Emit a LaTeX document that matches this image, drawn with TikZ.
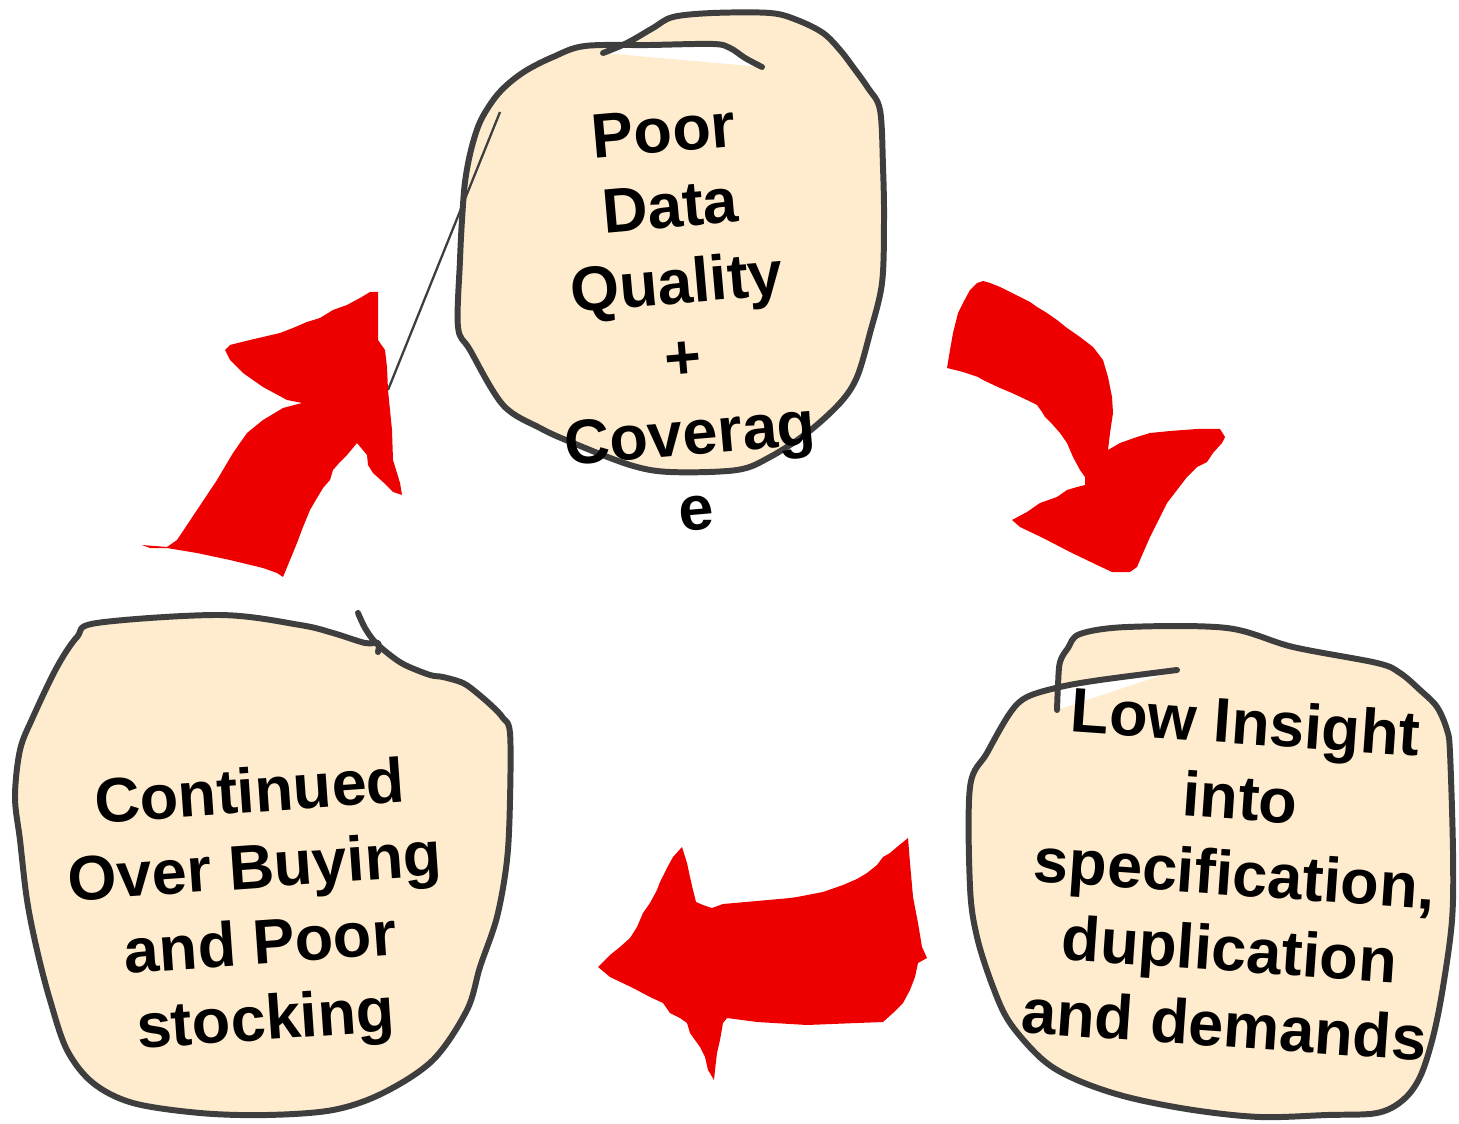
\documentclass[tikz,border=0pt]{standalone}
\usepackage{fontspec}
\setmainfont{Liberation Sans}
\definecolor{blobcream}{RGB}{255,236,206}
\definecolor{blobgray}{RGB}{62,62,62}
\definecolor{cyclered}{RGB}{238,0,0}
\tikzset{
  blobfill/.style={fill=blobcream, even odd rule},
  blobline/.style={draw=blobgray, line width=3.4pt, line join=round, line cap=round},
  cyclearrow/.style={fill=cyclered},
  blobtext/.style={font=\bfseries\fontsize{35.8}{43.2}\selectfont, align=center, inner sep=0pt},
}
% one hand drawn blob: fill (closed by a chord) then the open stroke
\newcommand\handblob[1]{%
  \fill[blobfill] plot[smooth, tension=.55] coordinates {#1} -- cycle;
  \draw[blobline] plot[smooth, tension=.55] coordinates {#1};}
\begin{document}
\begin{tikzpicture}[x=0.02cm, y=-0.02cm]
    \useasboundingbox (0,0) rectangle (1459,1124);

    % blobs
    \handblob{(762,67) (745,58) (730,48) (713,44) (650,45) (585,46) (553,57) (527,70) (508,84) (494,99) (480,122) (471,150) (465,182) (462,220) (460,260) (458,327) (470,350) (503,405) (540,428) (573,443) (630,465) (670,472) (737,470) (770,457) (807,433) (840,403) (857,377) (870,333) (882,283) (884,220) (883,167) (880,110) (868,88) (853,67) (840,50) (823,33) (797,20) (770,13) (713,13) (673,17) (653,28) (627,43) (603,53)}
    \handblob{(1057,710) (1058,685) (1060,662) (1068,648) (1080,634) (1127,627) (1227,628) (1293,647) (1377,663) (1400,673) (1420,690) (1437,707) (1447,730) (1450,753) (1453,853) (1452,920) (1443,987) (1433,1037) (1420,1077) (1403,1100) (1377,1113) (1327,1115) (1260,1117) (1193,1110) (1127,1097) (1077,1080) (1043,1060) (1010,1023) (993,987) (977,937) (970,887) (970,787) (987,753) (1010,713) (1027,697) (1060,687) (1100,680) (1177,670)}
    \handblob{(358,613) (365,628) (375,642) (390,655) (405,665) (430,675) (443,677) (463,683) (477,693) (493,707) (503,718) (510,733) (510,800) (507,860) (497,917) (480,967) (467,1010) (433,1060) (383,1093) (333,1110) (267,1115) (200,1113) (133,1103) (93,1083) (67,1050) (50,1000) (37,950) (27,900) (20,840) (15,797) (20,750) (33,717) (57,667) (77,637) (97,623) (220,615) (300,625) (333,633) (365,643) (378,643) (378,652)}

    % thin stroke
    \coordinate (strokeTop) at (500,112);
    \coordinate (strokeEnd) at (388,390);
    \draw[blobgray, line width=1.3pt] (strokeTop) -- (strokeEnd);

    % arrows
    \fill[cyclearrow] (142,545) -- (167,547) -- (177,540) -- (197,510) -- (217,480) -- (233,453) -- (247,433) -- (263,420) -- (283,408) -- (302,403) -- (287,400) -- (263,387) -- (243,373) -- (230,360) -- (225,350) -- (230,345) -- (250,340) -- (280,333) -- (293,328) -- (307,322) -- (320,318) -- (333,310) -- (347,305) -- (360,298) -- (370,292) -- (378,292) -- (378,340) -- (385,350) -- (387,367) -- (388,390) -- (392,430) -- (393,460) -- (397,473) -- (400,483) -- (402,495) -- (393,492) -- (383,482) -- (373,473) -- (368,465) -- (367,455) -- (357,443) -- (347,455) -- (340,462) -- (333,470) -- (330,480) -- (323,488) -- (317,498) -- (310,510) -- (303,527) -- (297,543) -- (290,560) -- (283,577) -- (277,573) -- (263,568) -- (230,560) -- (197,553) -- (167,548) -- (150,548) -- cycle;
    \fill[cyclearrow] (947,368) -- (950,350) -- (953,333) -- (958,313) -- (963,303) -- (970,290) -- (977,283) -- (983,281) -- (990,283) -- (1000,287) -- (1010,292) -- (1020,297) -- (1030,302) -- (1037,307) -- (1047,313) -- (1057,320) -- (1067,328) -- (1080,337) -- (1093,347) -- (1103,360) -- (1108,377) -- (1112,397) -- (1113,413) -- (1110,433) -- (1108,450) -- (1120,443) -- (1137,437) -- (1150,433) -- (1170,431) -- (1197,429) -- (1220,429) -- (1225,437) -- (1222,443) -- (1213,453) -- (1207,462) -- (1197,467) -- (1187,477) -- (1177,490) -- (1167,503) -- (1157,523) -- (1150,537) -- (1143,553) -- (1137,567) -- (1130,572) -- (1112,572) -- (1097,565) -- (1070,552) -- (1043,538) -- (1020,527) -- (1012,520) -- (1027,512) -- (1040,503) -- (1057,497) -- (1067,490) -- (1077,487) -- (1085,485) -- (1085,477) -- (1080,470) -- (1073,457) -- (1067,443) -- (1060,433) -- (1053,425) -- (1045,417) -- (1042,412) -- (1037,405) -- (1027,400) -- (1012,393) -- (1000,388) -- (983,380) -- (978,377) -- (963,372) -- cycle;
    \fill[cyclearrow] (598,967) -- (610,955) -- (620,947) -- (630,938) -- (637,927) -- (643,913) -- (650,903) -- (657,890) -- (660,882) -- (667,868) -- (673,857) -- (682,847) -- (687,863) -- (690,877) -- (693,890) -- (696,902) -- (703,905) -- (712,908) -- (723,904) -- (757,901) -- (790,898) -- (797,897) -- (823,892) -- (843,885) -- (857,879) -- (867,873) -- (877,865) -- (883,857) -- (890,853) -- (897,847) -- (908,838) -- (910,863) -- (913,897) -- (918,923) -- (922,947) -- (927,958) -- (918,963) -- (915,977) -- (910,990) -- (903,1003) -- (893,1013) -- (883,1022) -- (857,1023) -- (807,1025) -- (757,1022) -- (727,1018) -- (723,1023) -- (720,1040) -- (717,1053) -- (715,1070) -- (714,1080) -- (708,1070) -- (705,1057) -- (700,1047) -- (690,1033) -- (687,1023) -- (680,1018) -- (670,1013) -- (663,1003) -- (650,997) -- (633,988) -- (610,977) -- cycle;

    % labels
    \node[blobtext, rotate=5] (dataQuality) at (680,320) {Poor\\Data\\Quality\\+\\Coverag\\e};
    \node[blobtext, rotate=-4] (lowInsight) at (1235,873) {Low Insight\\into\\specification,\\duplication\\and demands};
    \node[blobtext, rotate=4] (overBuying) at (258,910) {Continued\\Over Buying\\and Poor\\stocking};
\end{tikzpicture}
\end{document}
